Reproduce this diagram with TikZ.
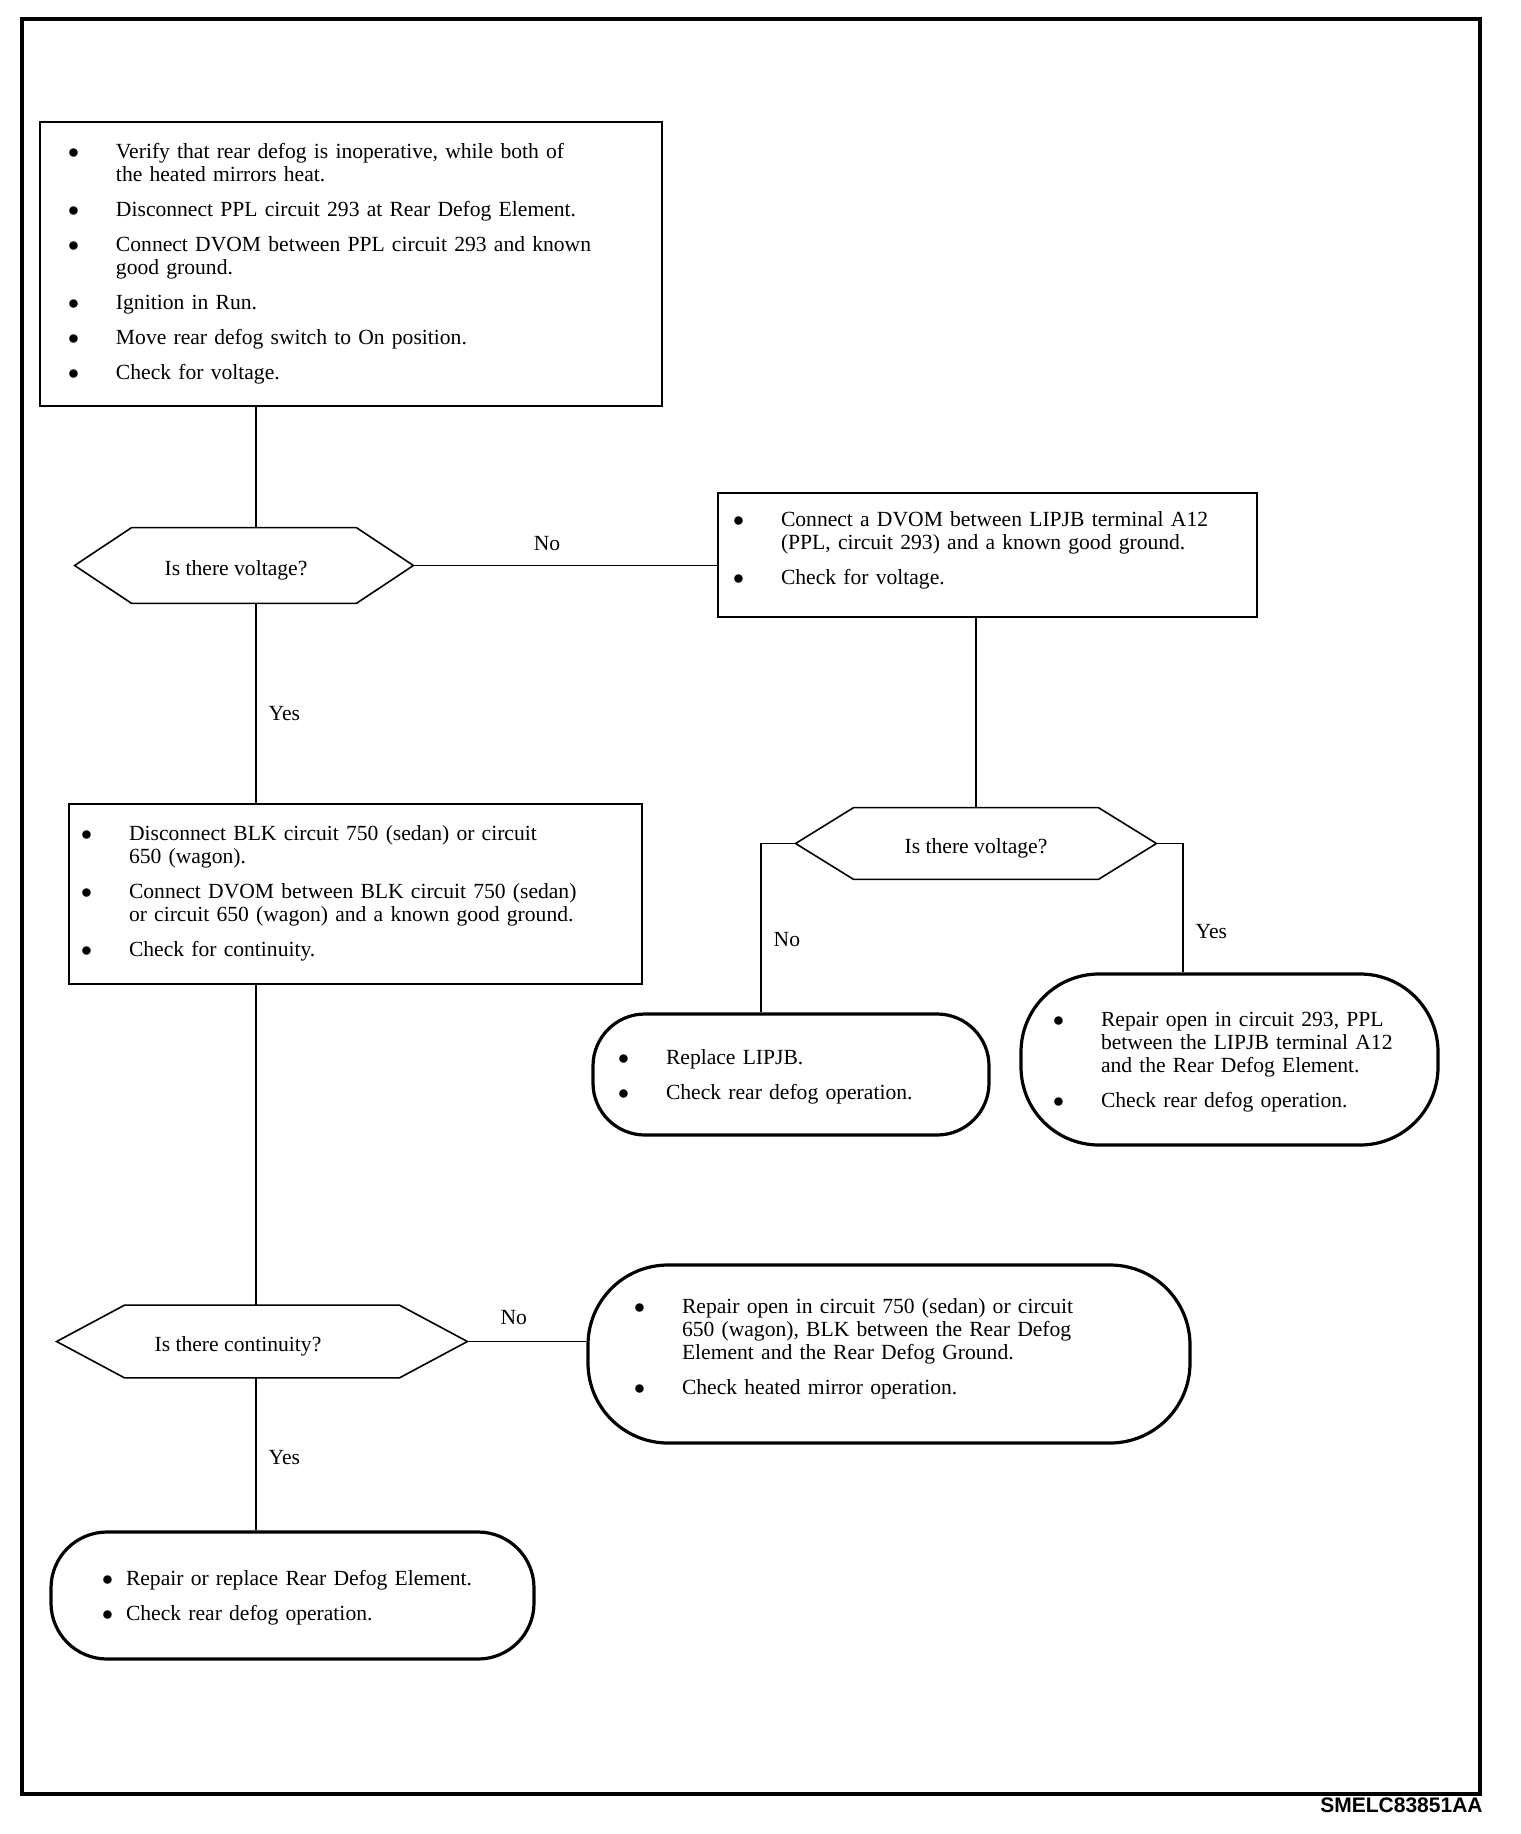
\documentclass[tikz,border=0pt]{standalone}
\usepackage{fontspec}
\setmainfont{Liberation Serif}
\setsansfont{Liberation Sans}
\usetikzlibrary{calc}

% hexagon round a question node, #2 = how far the points stick out
\newcommand{\hexa}[2]{\draw[line width=0.8pt] (#1.west) -- ([xshift=#2]#1.north west) -- ([xshift=-#2]#1.north east) -- (#1.east) -- ([xshift=-#2]#1.south east) -- ([xshift=#2]#1.south west) -- cycle;}
\newcommand{\bul}{$\bullet$}

\tikzset{
  chkbox/.style={draw, line width=1pt, align=left, inner ysep=0pt},
  endbox/.style={draw, line width=1.6pt, rounded corners=#1, align=left, inner ysep=0pt},
  askbox/.style={inner sep=0pt, text height=12pt, text depth=2.4pt},
  wire/.style={line width=0.7pt},
  lbl/.style={inner sep=0pt}
}

\begin{document}
\begin{tikzpicture}[x=0.5pt, y=-0.5pt, font=\fontsize{10.8}{11.5}\selectfont]
		\useasboundingbox (0,0) rectangle (1520,1834);
		\draw[line width=2.2pt] (22,19) rectangle (1480,1794);
		\coordinate (vL) at (256,0);
		\coordinate (vN) at (761,0);
		\coordinate (vY) at (1183,0);

		% steps
		\node[chkbox, inner xsep=14pt, text width=283pt, minimum height=142pt] (box1) at (351,264) {\begin{tabular}{@{}p{24pt}@{}l@{}}
			\bul & Verify that rear defog is inoperative, while both of\\
			& the heated mirrors heat.\\[6pt]
			\bul & Disconnect PPL circuit 293 at Rear Defog Element.\\[6pt]
			\bul & Connect DVOM between PPL circuit 293 and known\\
			& good ground.\\[6pt]
			\bul & Ignition in Run.\\[6pt]
			\bul & Move rear defog switch to On position.\\[6pt]
			\bul & Check for voltage.
		\end{tabular}};
		\node[chkbox, inner xsep=7.5pt, text width=254.5pt, minimum height=62pt] (box2) at (987.5,555) {\begin{tabular}{@{}p{24pt}@{}l@{}}
			\bul & Connect a DVOM between LIPJB terminal A12\\
			& (PPL, circuit 293) and a known good ground.\\[6pt]
			\bul & Check for voltage.\\[4pt]
		\end{tabular}};
		\node[chkbox, inner xsep=6pt, text width=274.5pt, minimum height=90pt] (box5) at (355.5,894) {\begin{tabular}{@{}p{24pt}@{}l@{}}
			\bul & Disconnect BLK circuit 750 (sedan) or circuit\\
			& 650 (wagon).\\[6pt]
			\bul & Connect DVOM between BLK circuit 750 (sedan)\\
			& or circuit 650 (wagon) and a known good ground.\\[6pt]
			\bul & Check for continuity.
		\end{tabular}};

		% questions
		\node[askbox, minimum width=169pt, minimum height=37.5pt] (q1) at (244,565.5) {\hspace*{-8pt}Is there voltage?};
		\hexa{q1}{28.5pt}
		\node[askbox, minimum width=180pt, minimum height=35.5pt] (q2) at (976,843.5) {Is there voltage?};
		\hexa{q2}{29pt}
		\node[askbox, minimum width=205pt, minimum height=36pt] (q3) at (262,1341.5) {\hspace*{-24pt}Is there continuity?};
		\hexa{q3}{34pt}

		% repairs
		\node[endbox=26pt, inner xsep=12.5pt, text width=173pt, minimum height=60.5pt] (box3) at (791,1074.5) {\begin{tabular}{@{}p{24pt}@{}l@{}}
			\bul & Replace LIPJB.\\[6pt]
			\bul & Check rear defog operation.\\[-3pt]
		\end{tabular}};
		\node[endbox=39pt, inner xsep=16pt, text width=176.5pt, minimum height=85.5pt] (box4) at (1229.5,1059.5) {\begin{tabular}{@{}p{24pt}@{}l@{}}
			\bul & Repair open in circuit 293, PPL\\
			& between the LIPJB terminal A12\\
			& and the Rear Defog Element.\\[6pt]
			\bul & Check rear defog operation.\\[-3pt]
		\end{tabular}};
		\node[endbox=40pt, inner xsep=23pt, text width=255pt, minimum height=89pt] (box6) at (889,1354) {\begin{tabular}{@{}p{24pt}@{}l@{}}
			\bul & Repair open in circuit 750 (sedan) or circuit\\
			& 650 (wagon), BLK between the Rear Defog\\
			& Element and the Rear Defog Ground.\\[6pt]
			\bul & Check heated mirror operation.\\[5pt]
		\end{tabular}};
		\node[endbox=28pt, inner xsep=25.5pt, text width=190.5pt, minimum height=63.5pt] (box7) at (292.5,1595.5) {\begin{tabular}{@{}p{12pt}@{}l@{}}
			\bul & Repair or replace Rear Defog Element.\\[6pt]
			\bul & Check rear defog operation.\\[-3pt]
		\end{tabular}};

		% connectors
		\draw[wire] (box1.south -| vL) -- (q1.north -| vL);
		\draw[wire] (q1.south -| vL) -- node[lbl, right=6pt, pos=.55] (y1) {Yes} (box5.north -| vL);
		\draw[wire] (q1.east) -- node[lbl, above=7pt, pos=.44] (n1) {No} (box2.west |- q1.east);
		\draw[wire] (box2.south -| q2.north) -- (q2.north);
		\draw[wire] (q2.west) -| node[lbl, right=6pt, pos=.785] (n2) {No} (box3.north -| vN);
		\draw[wire] (q2.east) -| node[lbl, right=6pt, pos=.84] (y2) {Yes} (box4.north -| vY);
		\draw[wire] (box5.south -| vL) -- (q3.north -| vL);
		\draw[wire] (q3.east) -- node[lbl, above=8pt, pos=.39] (n3) {No} (box6.west |- q3.east);
		\draw[wire] (q3.south -| vL) -- node[lbl, right=6pt, pos=.52] (y3) {Yes} (box7.north -| vL);

		\node[anchor=base east, inner sep=0pt, font=\fontsize{10.5}{12}\selectfont\sffamily\bfseries] (code) at (1483,1812) {SMELC83851AA};
	\end{tikzpicture}
\end{document}
